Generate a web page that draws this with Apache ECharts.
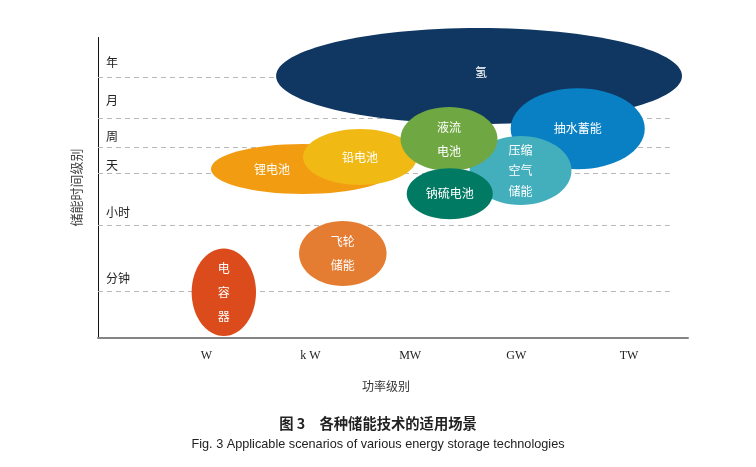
<!DOCTYPE html>
<html><head><meta charset="utf-8">
<script src="https://cdn.jsdelivr.net/npm/echarts@6/dist/echarts.min.js"></script>
<style>html,body{margin:0;padding:0;background:#fff}#c{width:756px;height:467px}</style>
</head><body><div id="c"></div>
<script>
// Axis levels
const powerLevels = ['W', 'k W', 'MW', 'GW', 'TW'];
const powerLevelPos = [1.01, 1.98, 2.91, 3.90, 4.95];
const timeLevels = ['分钟', '小时', '天', '周', '月', '年'];
const timeLevelPos = [59.5, 125.5, 172.5, 201.5, 237.5, 275.5];
const timeBounds = [46, 112, 164, 190, 219, 260];
const boundEnd = 5.33;

// Technologies (drawing order: back to front)
const techNames = ['氢', '抽水蓄能', '压缩空气储能', '锂电池', '铅电池', '液流电池', '钠硫电池', '飞轮储能', '电容器'];
const techLabels = ['氢', '抽水蓄能', '压缩\n空气\n储能', '锂电池', '铅电池', '液流\n电池', '钠硫电池', '飞轮\n储能', '电\n容\n器'];
const powerCenter = [3.552, 4.472, 3.939, 1.911, 2.442, 3.272, 3.279, 2.282, 1.173];
const powerSpread = [1.892, 0.625, 0.475, 0.858, 0.531, 0.452, 0.401, 0.408, 0.300];
const timeCenter = [261.5, 208.7, 167.0, 168.5, 180.5, 198.5, 143.7, 84.0, 45.3];
const timeSpread = [48.0, 40.5, 34.5, 25.0, 28.0, 32.0, 25.5, 32.5, 43.8];

const techColors = ['#0f3761', '#0a80c4', '#43afbd', '#f29c11', '#f0b913', '#6fa842', '#017a64', '#e47c32', '#dc4b1b'];
const labelShift = { '锂电池': [-31, 0], '氢': [2, -4] };
const labelLineHeight = { '压缩空气储能': 20.5 };

const chart = echarts.init(document.getElementById('c'), null, { renderer: 'canvas' });
const cjk = '"Noto Sans CJK SC", sans-serif';

chart.setOption({
  animation: false,
  backgroundColor: '#fff',
  title: [
    { text: '图 3　各种储能技术的适用场景', left: 'center', top: 411,
      textStyle: { fontSize: 14.3, fontWeight: 'bold', color: '#222', fontFamily: cjk } },
    { text: 'Fig. 3 Applicable scenarios of various energy storage technologies', left: 'center', top: 433,
      textStyle: { fontSize: 12.7, fontWeight: 'normal', color: '#222', fontFamily: '"Liberation Sans", Arial, sans-serif' } }
  ],
  grid: { left: 98, top: 37.5, width: 590, height: 300, containLabel: false },
  xAxis: {
    type: 'value', min: 0, max: 5.5,
    name: '功率级别', nameLocation: 'middle', nameGap: 43,
    nameTextStyle: { fontSize: 12, color: '#333', fontFamily: cjk, padding: [0, 14, 0, 0] },
    axisLine: { show: true, lineStyle: { color: '#858585', width: 2 } },
    axisTick: { show: false },
    splitLine: { show: false },
    axisLabel: {
      customValues: powerLevelPos, margin: 12,
      color: '#222', fontSize: 12, fontFamily: '"Liberation Serif", "Times New Roman", serif',
      formatter: v => powerLevels[powerLevelPos.indexOf(v)] || ''
    }
  },
  yAxis: {
    type: 'value', min: 0, max: 300,
    name: '储能时间级别', nameLocation: 'middle', nameGap: 15,
    nameTextStyle: { fontSize: 13, color: '#444', fontFamily: cjk },
    axisLine: { show: true, lineStyle: { color: '#111', width: 1 } },
    axisTick: { show: false },
    splitLine: { show: false },
    axisLabel: {
      customValues: timeLevelPos, inside: true, margin: 8, align: 'left',
      color: '#222', fontSize: 12, fontFamily: cjk,
      formatter: v => timeLevels[timeLevelPos.indexOf(v)] || ''
    }
  },
  series: [
    {
      type: 'line', data: [], z: 1, silent: true,
      markLine: {
        silent: true, symbol: 'none', label: { show: false }, animation: false,
        lineStyle: { type: [5, 4], color: '#b8b8b8', width: 1 },
        emphasis: { disabled: true },
        data: timeBounds.map(v => [{ coord: [0, v] }, { coord: [boundEnd, v] }])
      }
    },
    {
      type: 'custom', z: 5, clip: false, silent: true,
      data: techNames.map((n, i) => [powerCenter[i], timeCenter[i], powerSpread[i], timeSpread[i], i]),
      encode: { x: 0, y: 1 },
      renderItem: (params, api) => {
        const i = api.value(4);
        const name = techNames[i];
        const c = api.coord([api.value(0), api.value(1)]);
        const s = api.size([api.value(2), api.value(3)]);
        const sh = labelShift[name] || [0, 0];
        return {
          type: 'group',
          children: [
            { type: 'ellipse', shape: { cx: c[0], cy: c[1], rx: s[0], ry: s[1] }, style: { fill: techColors[i] } },
            { type: 'text', x: c[0] + sh[0], y: c[1] + sh[1],
              style: { text: techLabels[i], fill: '#fff', font: '12px ' + cjk, align: 'center', verticalAlign: 'middle',
                       lineHeight: labelLineHeight[name] || 24 } }
          ]
        };
      }
    }
  ]
});
</script>
</body></html>
